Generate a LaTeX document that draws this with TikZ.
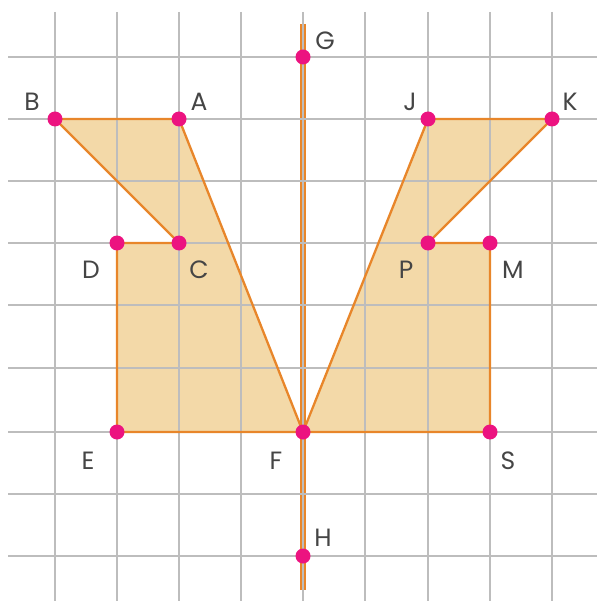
\documentclass[tikz,border=0pt]{standalone}
\usepackage{fontspec}
\setmainfont{Poppins}
\definecolor{gridc}{HTML}{BDBDBD}
\definecolor{shapefill}{HTML}{F3D9A8}
\definecolor{edgec}{HTML}{E8862A}
\definecolor{dotc}{HTML}{EC1380}
\definecolor{labc}{HTML}{454545}
\tikzset{
  gridline/.style={draw=gridc, line width=1.3pt},
  shapeedge/.style={draw=edgec, line width=2.3pt, line join=round},
  shapearea/.style={fill=shapefill},
  ptdot/.style={circle, fill=dotc, inner sep=0pt, minimum size=15pt},
  ptlab/.style={text=labc, font=\fontsize{25}{25}\selectfont, inner sep=0pt}
}
\begin{document}
\begin{tikzpicture}[x=1pt,y=-1pt]
\useasboundingbox (0,0) rectangle (597,601);
% points
\coordinate (B) at (55,119);
\coordinate (A) at (179,119);
\coordinate (C) at (179,243);
\coordinate (D) at (117,243);
\coordinate (E) at (117,432);
\coordinate (F) at (303,432);
\coordinate (G) at (303,57);
\coordinate (H) at (303,556);
\coordinate (J) at (428,119);
\coordinate (K) at (552,119);
\coordinate (P) at (428,243);
\coordinate (M) at (490,243);
\coordinate (S) at (490,432);
\coordinate (Gtop) at (303,24);
\coordinate (Hbot) at (303,590);
% fills
\fill[shapearea] (B) -- (A) -- (F) -- (E) -- (D) -- (C) -- cycle;
\fill[shapearea] (K) -- (J) -- (F) -- (S) -- (M) -- (P) -- cycle;
% line GH
\draw[draw=edgec, line width=6pt] (Gtop) -- (Hbot);
% grid
\foreach \x in {55,117,179,241,303,365,428,490,552}
  \draw[gridline] (\x,12) -- (\x,601);
\foreach \y in {57,119,181,243,305,368,432,494,556}
  \draw[gridline] (8,\y) -- (597,\y);
% edges
\draw[shapeedge] (B) -- (A) -- (F) -- (E) -- (D) -- (C) -- cycle;
\draw[shapeedge] (K) -- (J) -- (F) -- (S) -- (M) -- (P) -- cycle;
% dots
\foreach \p in {A,B,C,D,E,F,G,H,J,K,P,M,S}
  \node[ptdot] (dot\p) at (\p) {};
% labels
\node[ptlab] (lB) at (32,102) {B};
\node[ptlab] (lA) at (199,102) {A};
\node[ptlab] (lC) at (199,270) {C};
\node[ptlab] (lD) at (91,270) {D};
\node[ptlab] (lE) at (88,461) {E};
\node[ptlab] (lF) at (276,461) {F};
\node[ptlab] (lG) at (325,41) {G};
\node[ptlab] (lH) at (323,538) {H};
\node[ptlab] (lJ) at (410,102) {J};
\node[ptlab] (lK) at (570,102) {K};
\node[ptlab] (lP) at (406,270) {P};
\node[ptlab] (lM) at (513,270) {M};
\node[ptlab] (lS) at (508,461) {S};
\end{tikzpicture}
\end{document}
